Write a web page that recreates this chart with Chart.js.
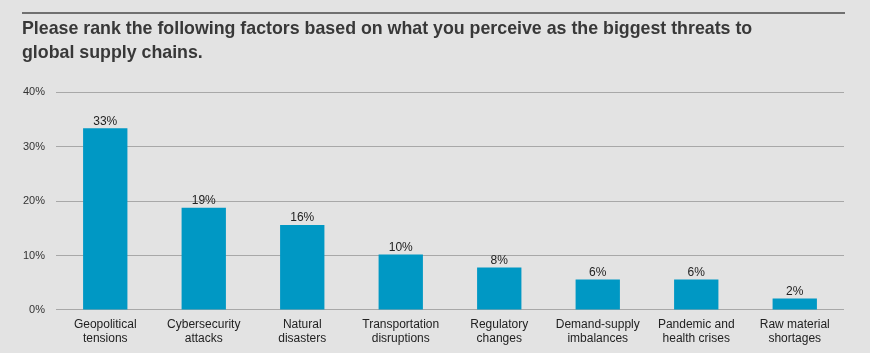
<!DOCTYPE html>
<html>
<head>
<meta charset="utf-8">
<script src="https://cdn.jsdelivr.net/npm/chart.js@4/dist/chart.umd.min.js"></script>
<style>
  html, body { margin: 0; padding: 0; background: #e3e3e3; }
  #wrap { position: relative; width: 870px; height: 353px; }
  #topline { position: absolute; left: 22px; top: 12px; width: 823px; height: 0; border-top: 2px solid #707070; }
  canvas { position: absolute; left: 0; top: 0; }
</style>
</head>
<body>
<div id="wrap">
  <div id="topline"></div>
  <canvas id="c" width="870" height="353"></canvas>
</div>
<script>
const titleLines = [
  "Please rank the following factors based on what you perceive as the biggest threats to",
  "global supply chains."
];
const categories = [
  ["Geopolitical", "tensions"],
  ["Cybersecurity", "attacks"],
  ["Natural", "disasters"],
  ["Transportation", "disruptions"],
  ["Regulatory", "changes"],
  ["Demand-supply", "imbalances"],
  ["Pandemic and", "health crises"],
  ["Raw material", "shortages"]
];
const shares = [33.4, 18.8, 15.6, 10.2, 7.8, 5.6, 5.6, 2.1];
const yTicks = [0, 10, 20, 30, 40];

const valueLabels = {
  id: 'valueLabels',
  afterDatasetsDraw(chart) {
    const ctx = chart.ctx;
    const meta = chart.getDatasetMeta(0);
    ctx.save();
    ctx.font = '12px "Liberation Sans", Arial, sans-serif';
    ctx.fillStyle = '#222';
    ctx.textAlign = 'center';
    ctx.textBaseline = 'bottom';
    meta.data.forEach((bar, i) => {
      ctx.fillText(Math.round(shares[i]) + '%', bar.x, bar.y - 1);
    });
    ctx.restore();
  }
};

new Chart(document.getElementById('c'), {
  type: 'bar',
  data: {
    labels: categories,
    datasets: [{
      data: shares,
      backgroundColor: '#0098c4',
      borderWidth: 0,
      barPercentage: 0.45,
      categoryPercentage: 1
    }]
  },
  options: {
    responsive: false,
    animation: false,
    layout: { padding: { left: 22, right: 26, top: 0, bottom: 0 } },
    plugins: {
      legend: { display: false },
      tooltip: { enabled: false },
      title: {
        display: true,
        text: titleLines,
        align: 'start',
        color: '#383838',
        font: { family: '"Liberation Sans", Arial, sans-serif', size: 17.8, weight: 'bold', lineHeight: 1.3 },
        padding: { top: 18, bottom: 28 }
      }
    },
    scales: {
      x: {
        grid: { display: false, drawTicks: false },
        border: { display: false },
        ticks: {
          color: '#222',
          padding: 7,
          font: { family: '"Liberation Sans", Arial, sans-serif', size: 12, lineHeight: 1.21 },
          maxRotation: 0,
          autoSkip: false
        }
      },
      y: {
        min: 0,
        max: 40,
        afterFit(scale) { scale.width = 34; },
        afterBuildTicks(scale) { scale.ticks = yTicks.map(v => ({ value: v })); },
        grid: { color: '#a8a8a8', lineWidth: 1, drawTicks: false },
        border: { display: false },
        ticks: {
          color: '#333',
          padding: 11,
          font: { family: '"Liberation Sans", Arial, sans-serif', size: 11 },
          callback: v => v + '%'
        }
      }
    }
  },
  plugins: [valueLabels]
});
</script>
</body>
</html>
